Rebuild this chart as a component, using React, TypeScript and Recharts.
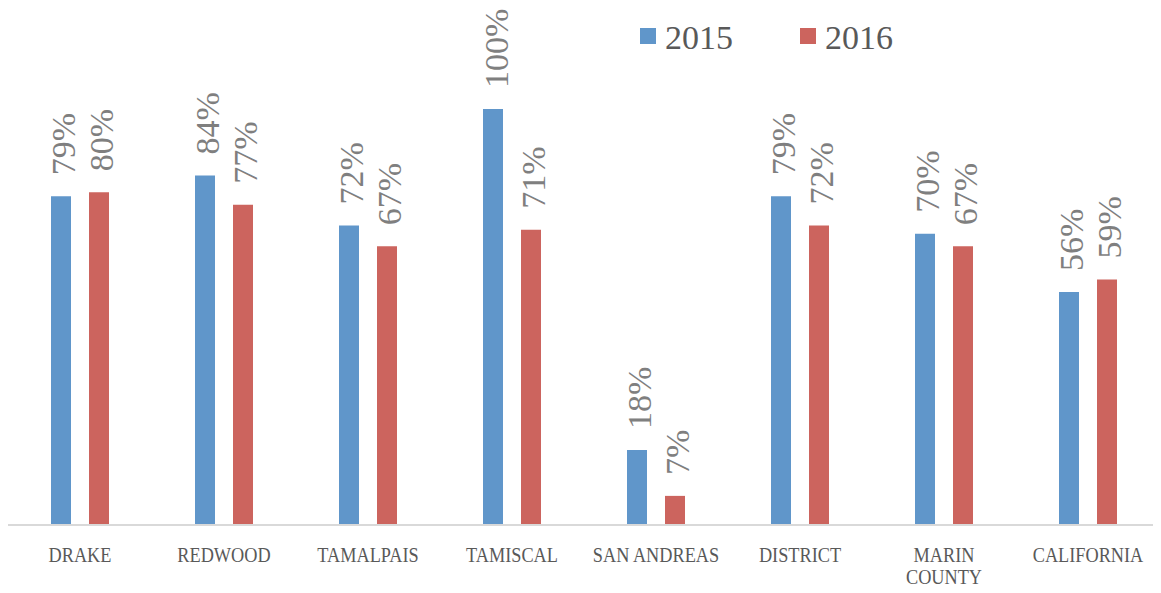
import React from "react";
import { BarChart, Bar, XAxis, YAxis, Legend, LabelList } from "recharts";

const categories = [
  "DRAKE",
  "REDWOOD",
  "TAMALPAIS",
  "TAMISCAL",
  "SAN ANDREAS",
  "DISTRICT",
  "MARIN\nCOUNTY",
  "CALIFORNIA",
];
const values2015 = [79, 84, 72, 100, 18, 79, 70, 56];
const values2016 = [80, 77, 67, 71, 7, 72, 67, 59];

const BLUE = "#6096CA";
const RED = "#CC645E";
const SERIF = "'Liberation Serif', 'DejaVu Serif', serif";

const data = categories.map((name, i) => ({
  name,
  y2015: values2015[i],
  y2016: values2016[i],
}));

const ValueLabel = (props: any) => {
  const { x, y, width, value } = props;
  const cx = Number(x) + Number(width) / 2 + 3;
  const ty = Number(y) - 21;
  return (
    <text
      x={cx}
      y={ty}
      transform={`rotate(-90, ${cx}, ${ty})`}
      textAnchor="start"
      dominantBaseline="central"
      fill="#7f7f7f"
      style={{ fontFamily: SERIF, fontSize: 34 }}
    >
      {value}%
    </text>
  );
};

const CategoryTick = (props: any) => {
  const { x, y, payload } = props;
  const lines = String(payload.value).split("\n");
  return (
    <g transform={`translate(${x},${y}) scale(0.85,1)`}>
      {lines.map((line, i) => (
        <text
          key={i}
          x={0}
          y={37 + i * 22}
          textAnchor="middle"
          fill="#595959"
          style={{ fontFamily: SERIF, fontSize: 21.5 }}
        >
          {line}
        </text>
      ))}
    </g>
  );
};

const LegendContent = () => {
  const items = [
    { label: "2015", color: BLUE },
    { label: "2016", color: RED },
  ];
  return (
    <div style={{ display: "flex", alignItems: "center" }}>
      {items.map((item, i) => (
        <div
          key={item.label}
          style={{
            display: "flex",
            alignItems: "center",
            marginLeft: i === 0 ? 0 : 67,
          }}
        >
          <span
            style={{
              display: "inline-block",
              width: 16,
              height: 16,
              background: item.color,
              marginRight: 9,
              position: "relative",
              top: -2,
            }}
          />
          <span
            style={{
              fontFamily: SERIF,
              fontSize: 34,
              lineHeight: "34px",
              color: "#595959",
            }}
          >
            {item.label}
          </span>
        </div>
      ))}
    </div>
  );
};

export default function App() {
  return (
    <BarChart
      width={1153}
      height={585}
      data={data}
      margin={{ top: 101, right: 1, left: 0, bottom: 9 }}
      barSize={20}
      barGap={18}
    >
      <XAxis
        dataKey="name"
        interval={0}
        height={59}
        axisLine={{ stroke: "#d9d9d9", strokeWidth: 2 }}
        tickLine={false}
        tickSize={0}
        tickMargin={0}
        tick={<CategoryTick />}
      />
      <YAxis hide domain={[0, 100]} />
      <Legend
        layout="horizontal"
        verticalAlign="middle"
        content={<LegendContent />}
        wrapperStyle={{ top: 13, left: 632, width: "auto" }}
      />
      <Bar dataKey="y2015" name="2015" fill={BLUE} isAnimationActive={false}>
        <LabelList dataKey="y2015" content={<ValueLabel />} />
      </Bar>
      <Bar dataKey="y2016" name="2016" fill={RED} isAnimationActive={false}>
        <LabelList dataKey="y2016" content={<ValueLabel />} />
      </Bar>
    </BarChart>
  );
}
